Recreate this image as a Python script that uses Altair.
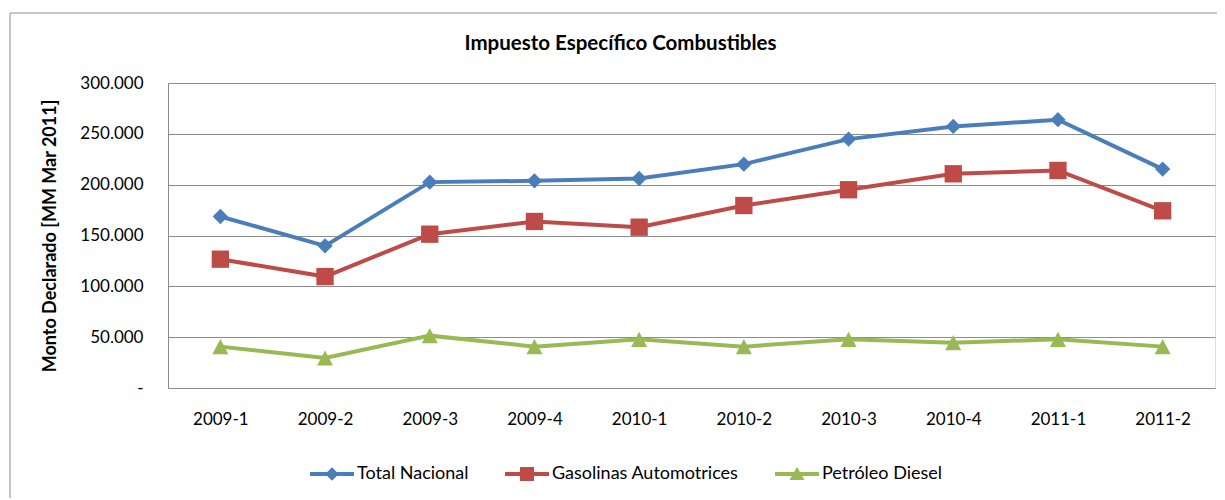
import altair as alt
import pandas as pd

periodos = ["2009-1", "2009-2", "2009-3", "2009-4", "2010-1",
            "2010-2", "2010-3", "2010-4", "2011-1", "2011-2"]
series = ["Total Nacional", "Gasolinas Automotrices", "Petróleo Diesel"]
total_nacional = [168700, 139800, 202500, 203800, 206100, 220200, 244800, 257300, 263900, 215300]
gasolinas = [126700, 109600, 151300, 163800, 158200, 179500, 195000, 210700, 214000, 174300]
diesel = [40700, 29500, 51500, 40700, 47900, 40700, 47900, 44600, 47900, 40700]
colores = ["#4a7ebb", "#be4b48", "#98b954"]
marcadores = ["diamond", "square", "M0,-0.95L1,0.95L-1,0.95Z"]
tam_marcador = [235, 300, 256]

rows = []
for s, vals in zip(series, [total_nacional, gasolinas, diesel]):
    for p, v in zip(periodos, vals):
        rows.append({"periodo": p, "serie": s, "monto": v})
df = pd.DataFrame(rows)

FONT = "Lato"
GRID = "#8c8c8c"
FS = "\u2007"

# legend symbols: line + marker drawn as custom paths
LINE = "M-4.4,-0.4L4.4,-0.4L4.4,0.4L-4.4,0.4Z "
leg_paths = [
    LINE + "M0,-1.35L1.35,0L0,1.35L-1.35,0Z",
    LINE + "M-1.4,-1.4L1.4,-1.4L1.4,1.4L-1.4,1.4Z",
    LINE + "M0,-1.4L1.5,1.2L-1.5,1.2Z",
]

x_enc = alt.X("periodo:N", sort=periodos,
              scale=alt.Scale(type="point", padding=0.5, domain=periodos),
              axis=alt.Axis(title=None, labelAngle=0, ticks=False, grid=False,
                            domainColor=GRID, labelFont=FONT, labelFontSize=17,
                            labelColor="#000", labelPadding=23))
y_enc = alt.Y("monto:Q",
              scale=alt.Scale(domain=[0, 300000], nice=False),
              axis=alt.Axis(title="Monto Declarado [MM Mar 2011]", values=[0, 50000, 100000, 150000, 200000, 250000, 300000],
                            labelExpr="datum.value == 0 ? '-" + FS * 1 + "' : replace(format(datum.value, ','), ',', '.')",
                            ticks=False, grid=True, gridColor=GRID, gridWidth=1,
                            domainColor=GRID, labelFont=FONT, labelFontSize=17,
                            labelColor="#000", labelPadding=25,
                            titleFont=FONT, titleFontSize=18, titleFontWeight="bold",
                            titleColor="#000", titlePadding=20))
color_scale = alt.Scale(domain=series, range=colores)

leg = dict(title=None, orient="none", legendX=155, legendY=382,
           direction="horizontal", symbolSize=100, labelLimit=400,
           symbolStrokeWidth=0, labelFont=FONT,
           labelFontSize=18, labelColor="#000",
           labelOffset=16, columnPadding=36)
color_enc = alt.Color("serie:N", scale=color_scale, legend=alt.Legend(**leg))

base = alt.Chart(df)

border = alt.Chart(pd.DataFrame({"a": [0]})).mark_rect(
    fill=None, stroke=GRID, strokeWidth=1, clip=False
).encode(x=alt.value(-158), x2=alt.value(1070), y=alt.value(-70), y2=alt.value(430))

lines = base.mark_line(strokeWidth=4).encode(
    x=x_enc, y=y_enc, color=color_enc, detail="serie:N",
)

point_layers = []
for s, m, sz in zip(series, marcadores, tam_marcador):
    point_layers.append(
        base.transform_filter(alt.datum.serie == s)
        .mark_point(filled=True, opacity=1, size=sz, shape=m)
        .encode(x=x_enc, y=y_enc, color=color_enc)
    )

legend_layer = base.transform_filter("false").mark_point(filled=True, opacity=1).encode(
    x=x_enc, y=y_enc,
    color=color_enc,
    shape=alt.Shape("serie:N", scale=alt.Scale(domain=series, range=leg_paths),
                    legend=alt.Legend(**leg)),
)

chart = alt.layer(border, lines, *point_layers, legend_layer).properties(
    width=1047, height=305,
    title=alt.TitleParams("Impuesto Específico  Combustibles", font=FONT, fontSize=20.5,
                          fontWeight="bold", color="#000", anchor="middle", offset=0,
                          dy=42, dx=-71),
    padding={"left": 160, "top": 75, "right": 2, "bottom": 110},
    autosize=alt.AutoSizeParams(type="none"),
).configure_view(stroke=None).configure(background="white")

chart.save("out.html", embed_options={"renderer": "svg", "actions": False})
